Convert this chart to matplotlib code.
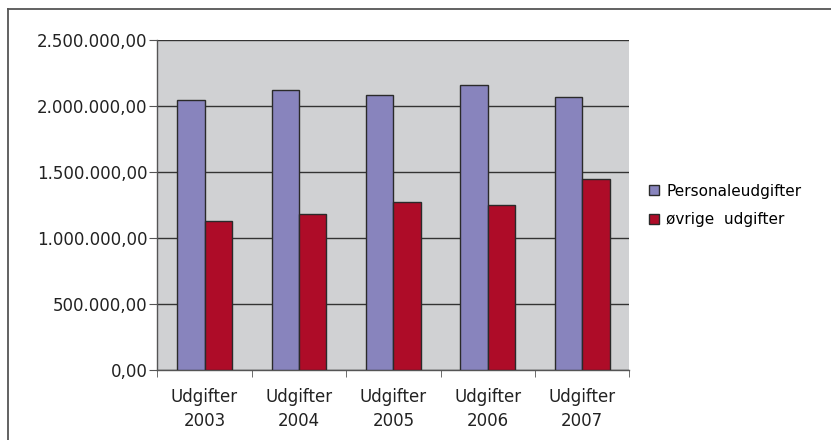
import matplotlib.pyplot as plt
import numpy as np
from matplotlib.lines import Line2D
from matplotlib.ticker import FuncFormatter, FixedLocator

categories = ['Udgifter\n2003', 'Udgifter\n2004', 'Udgifter\n2005', 'Udgifter\n2006', 'Udgifter\n2007']
personale = [2042000, 2118000, 2080000, 2156000, 2070000]
oevrige = [1129000, 1182000, 1273000, 1246000, 1448000]
series_names = ['Personaleudgifter', 'øvrige  udgifter']
yticks = [0, 500000, 1000000, 1500000, 2000000, 2500000]


def dk_fmt(v, pos):
    s = '{:,.2f}'.format(v)
    return s.replace(',', 'X').replace('.', ',').replace('X', '.')


plt.rcParams['font.family'] = 'DejaVu Sans'
fig = plt.figure(figsize=(8.31, 4.40), dpi=100)
ax = fig.add_axes([0.1893, 0.1602, 0.5682, 0.7489])
ax.set_facecolor('#d0d1d3')

x = np.arange(len(categories))
w = 0.29
ax.bar(x - w / 2, personale, w, color='#8884bd', edgecolor='#2a2a2a', linewidth=1.0,
       label=series_names[0], zorder=3)
ax.bar(x + w / 2, oevrige, w, color='#ae0c28', edgecolor='#2a2a2a', linewidth=1.0,
       label=series_names[1], zorder=3)

ax.set_xlim(-0.5, len(categories) - 0.5)
ax.set_ylim(0, 2500000)
ax.yaxis.set_major_locator(FixedLocator(yticks))
ax.yaxis.set_major_formatter(FuncFormatter(dk_fmt))
ax.grid(axis='y', color='#333333', linewidth=1.0, zorder=1)
ax.set_axisbelow(True)

ax.set_xticks(x)
ax.set_xticklabels(categories, fontsize=12, color='#222222', linespacing=1.45)
ax.xaxis.set_minor_locator(FixedLocator(np.arange(-0.5, len(categories), 1.0)))
ax.tick_params(axis='x', which='major', length=0, pad=13)
ax.tick_params(axis='x', which='minor', length=5, color='#555555', direction='out')
ax.tick_params(axis='y', length=6, color='#555555', direction='out', labelsize=12,
               labelcolor='#222222', pad=1)

for side in ['top', 'right']:
    ax.spines[side].set_visible(False)
for side in ['left', 'bottom']:
    ax.spines[side].set_color('#555555')
    ax.spines[side].set_linewidth(1.0)

fig.legend(loc='center left', bbox_to_anchor=(0.765, 0.533), frameon=False,
           fontsize=11, handlelength=0.6, handleheight=0.6, handletextpad=0.5,
           labelspacing=0.9)

# outer chart frame (only top and left edges fall inside the image)
fig.add_artist(Line2D([7.5 / 831, 7.5 / 831], [0, 1 - 9 / 440], color='#555555', linewidth=1.3))
fig.add_artist(Line2D([7.5 / 831, 1], [1 - 9 / 440, 1 - 9 / 440], color='#555555', linewidth=1.3))

fig.savefig('out.png', dpi=100)
